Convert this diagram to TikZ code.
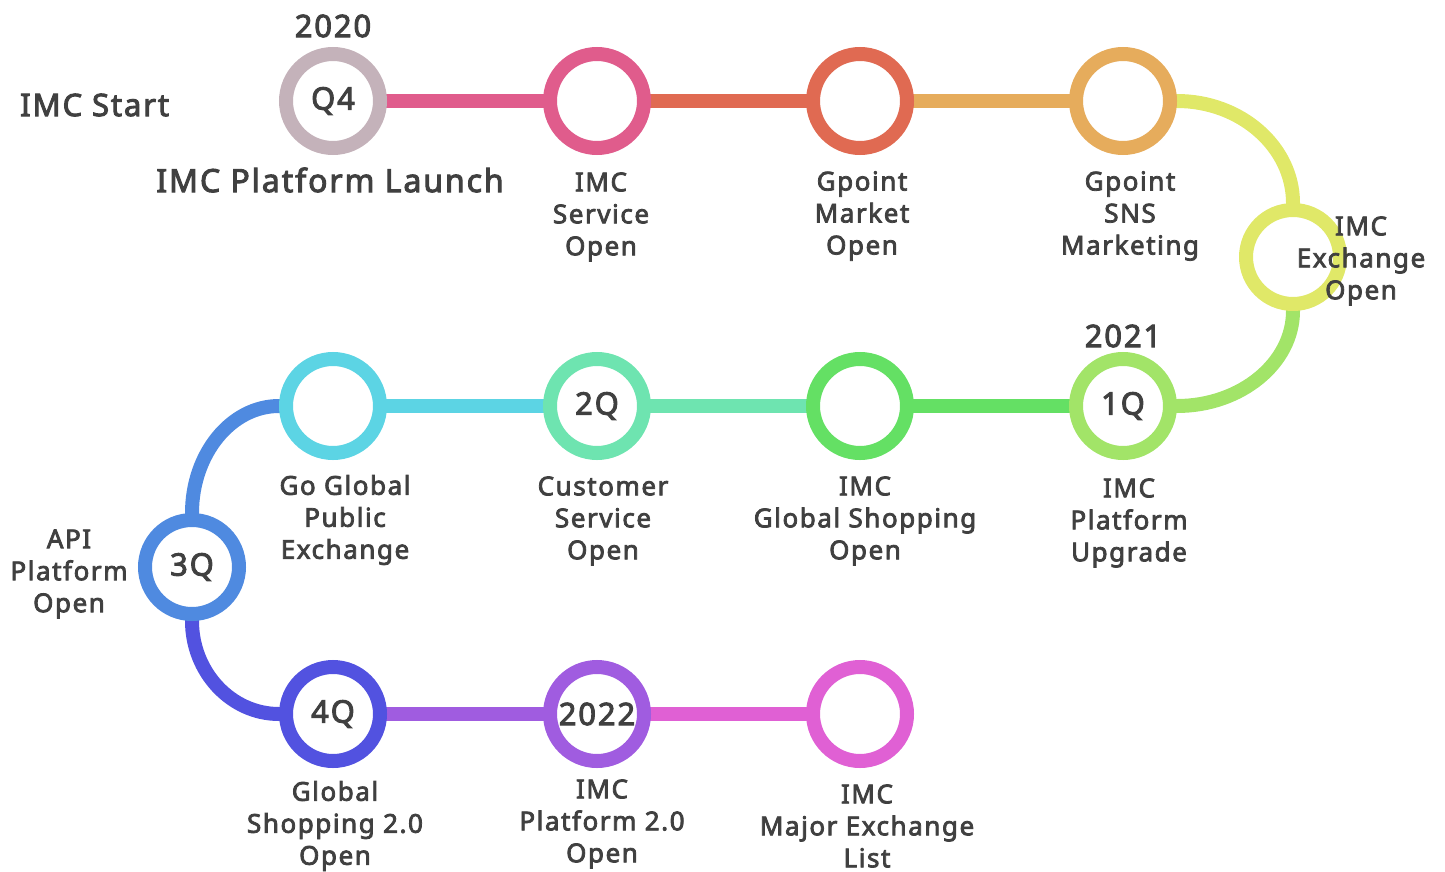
\documentclass[tikz,border=0pt]{standalone}
\usepackage{fontspec}
\setmainfont{Noto Sans}[LetterSpace=6, BoldFont={Noto Sans}, BoldFeatures={FakeBold=3}]
\usetikzlibrary{backgrounds}
\definecolor{txt}{HTML}{404040}
\definecolor{cA}{HTML}{C4B2BA}
\definecolor{cB}{HTML}{E05C8C}
\definecolor{cC}{HTML}{E06A52}
\definecolor{cD}{HTML}{E6AC5C}
\definecolor{cE}{HTML}{E0E868}
\definecolor{cF}{HTML}{A2E468}
\definecolor{cG}{HTML}{64E064}
\definecolor{cH}{HTML}{6EE4B0}
\definecolor{cI}{HTML}{5CD4E4}
\definecolor{cJ}{HTML}{4F8AE0}
\definecolor{cK}{HTML}{5252E0}
\definecolor{cL}{HTML}{A05CE0}
\definecolor{cM}{HTML}{E060D4}
\tikzset{
  ring/.style={circle, draw=#1, line width=14pt, fill=white, minimum size=94pt,
    inner sep=0pt, text=txt, font=\bfseries\fontsize{31}{36}\selectfont},
  conn/.style={draw=#1, line width=14pt},
  lab/.style={text=txt, align=center, inner sep=0pt,
    font=\bfseries\fontsize{26}{32}\selectfont},
  big/.style={text=txt, inner sep=0pt, font=\bfseries\fontsize{31}{36}\selectfont}
}
\begin{document}
\begin{tikzpicture}[x=1pt,y=-1pt]
\useasboundingbox (0,0) rectangle (1445,872);
% circles
\node[ring=cA] (n1) at (333,101) {Q4};
\node[ring=cB] (n2) at (597,101) {};
\node[ring=cC] (n3) at (860,101) {};
\node[ring=cD] (n4) at (1123,101) {};
\node[ring=cE] (n5) at (1293,257) {};
\node[ring=cF] (n6) at (1123,406) {1Q};
\node[ring=cG] (n7) at (860,406) {};
\node[ring=cH] (n8) at (597,406) {2Q};
\node[ring=cI] (n9) at (333,406) {};
\node[ring=cJ] (n10) at (192,567) {3Q};
\node[ring=cK] (n11) at (333,714) {4Q};
\node[ring=cL] (n12) at (597,714) {2022};
\node[ring=cM] (n13) at (860,714) {};
% connectors
\begin{scope}[on background layer]
\draw[conn=cB] (n1.center) -- (n2.center);
\draw[conn=cC] (n2.center) -- (n3.center);
\draw[conn=cD] (n3.center) -- (n4.center);
\draw[conn=cE] (n4.center) -- (n4.east) .. controls +(64,0) and +(0,-56) .. (n5.north) -- (n5.center);
\draw[conn=cF] (n5.center) -- (n5.south) .. controls +(0,52) and +(64,0) .. (n6.east) -- (n6.center);
\draw[conn=cG] (n6.center) -- (n7.center);
\draw[conn=cH] (n7.center) -- (n8.center);
\draw[conn=cI] (n8.center) -- (n9.center);
\draw[conn=cJ] (n9.center) -- (n9.west) .. controls +(-48,0) and +(0,-59) .. (n10.north) -- (n10.center);
\draw[conn=cK] (n10.center) -- (n10.south) .. controls +(0,51) and +(-48,0) .. (n11.west) -- (n11.center);
\draw[conn=cL] (n11.center) -- (n12.center);
\draw[conn=cM] (n12.center) -- (n13.center);
\end{scope}
% labels
\node[big] (y20) at (333,26) {2020};
\node[big, anchor=west] (start) at (20,105) {IMC Start};
\node[big, font=\bfseries\fontsize{32}{36}\selectfont] (launch) at (330,180) {IMC Platform Launch};
\node[lab] (l2) at (601,217) {IMC\\Service\\Open};
\node[lab] (l3) at (862,216) {Gpoint\\Market\\Open};
\node[lab] (l4) at (1130,216) {Gpoint\\SNS\\Marketing};
\node[lab] (l5) at (1361,261) {IMC\\Exchange\\Open};
\node[big] (y21) at (1123,336) {2021};
\node[lab] (l6) at (1129,523) {IMC\\Platform\\Upgrade};
\node[lab] (l7) at (865,521) {IMC\\Global Shopping\\Open};
\node[lab] (l8) at (603,521) {Customer\\Service\\Open};
\node[lab] (l9) at (345,520) {Go Global\\Public\\Exchange};
\node[lab] (l10) at (69,574) {API\\Platform\\Open};
\node[lab] (l11) at (335,826) {Global\\Shopping 2.0\\Open};
\node[lab] (l12) at (602,824) {IMC\\Platform 2.0\\Open};
\node[lab] (l13) at (867,826) {IMC\\Major Exchange\\List};
\end{tikzpicture}
\end{document}
